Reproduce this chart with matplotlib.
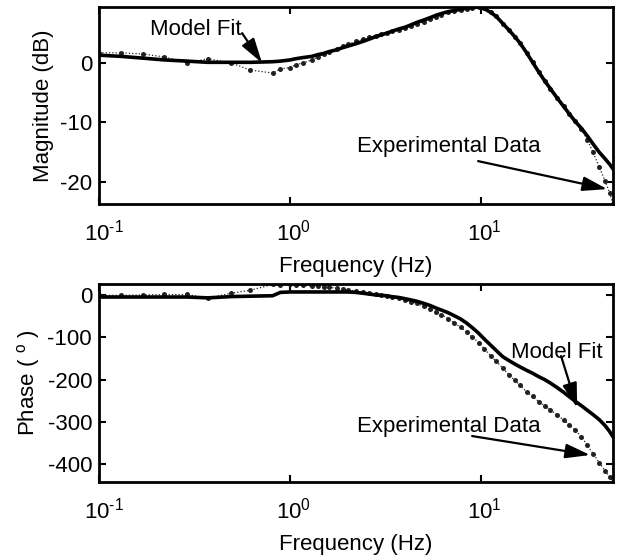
import matplotlib
matplotlib.use("Agg")
import matplotlib.pyplot as plt
from matplotlib.ticker import FixedLocator, FixedFormatter, NullLocator
from matplotlib.transforms import ScaledTranslation

plt.rcParams['font.family'] = ['Liberation Sans', 'DejaVu Sans']
plt.rcParams['mathtext.fontset'] = 'custom'
plt.rcParams['mathtext.rm'] = 'Liberation Sans'
plt.rcParams['mathtext.it'] = 'Liberation Sans'
plt.rcParams['mathtext.bf'] = 'Liberation Sans'
plt.rcParams['axes.unicode_minus'] = False

# ---- data ----
freq = [0.1, 0.13, 0.17, 0.22, 0.29, 0.37, 0.49, 0.62, 0.81, 0.89,
        1.0, 1.07, 1.17, 1.3, 1.4, 1.5, 1.6, 1.75, 1.9, 2.0,
        2.2, 2.4, 2.6, 2.8, 3.0, 3.2, 3.4, 3.7, 4.0, 4.3,
        4.6, 5.0, 5.4, 5.8, 6.2, 6.7, 7.2, 7.8, 8.4, 9.0,
        9.7, 10.4, 11.2, 12.0, 13.0, 14.0, 15.0, 16.0, 17.3, 18.6,
        20.0, 21.5, 23.0, 25.0, 27.0, 29.0, 31.0, 33.5, 36.0, 38.5,
        41.5, 44.5, 47.0, 49.0]

mag_exp = [1.7, 1.7, 1.5, 1.0, 0.0, 0.7, 0.0, -1.2, -1.7, -1.0,
           -0.8, -0.3, 0.0, 0.5, 1.0, 1.5, 1.9, 2.3, 2.8, 3.1,
           3.6, 4.0, 4.3, 4.6, 4.9, 5.1, 5.4, 5.6, 5.9, 6.2,
           6.5, 6.9, 7.3, 7.7, 8.1, 8.5, 8.7, 8.9, 9.1, 9.3,
           9.4, 9.2, 8.5, 7.8, 6.6, 5.5, 4.4, 3.3, 1.7, 0.1,
           -1.5, -3.0, -4.3, -5.9, -7.3, -8.6, -9.8, -11.1, -13.0, -15.0,
           -17.5, -19.8, -21.8, -23.7]

mag_fit = [1.3, 1.1, 0.8, 0.5, 0.3, 0.1, 0.1, 0.1, 0.2, 0.3,
           0.5, 0.7, 0.9, 1.1, 1.4, 1.6, 1.9, 2.2, 2.6, 2.8,
           3.2, 3.6, 4.0, 4.4, 4.7, 5.0, 5.3, 5.7, 6.0, 6.4,
           6.8, 7.2, 7.6, 8.0, 8.3, 8.6, 8.8, 9.0, 9.2, 9.3,
           9.4, 9.1, 8.5, 7.8, 6.6, 5.5, 4.4, 3.3, 1.7, 0.1,
           -1.5, -3.0, -4.3, -5.9, -7.3, -8.6, -9.8, -11.0, -12.3, -13.6,
           -15.0, -16.1, -17.0, -17.8]

phase_exp = [0, 0, 1, 2, 2, -7, 5, 12, 26, 25,
             26, 25, 24, 22, 21, 20, 19, 17, 15, 13,
             10, 7, 5, 3, 1, -2, -4, -7, -11, -15,
             -19, -26, -32, -39, -46, -55, -65, -76, -87, -99,
             -112, -127, -143, -157, -173, -189, -202, -214, -229, -240,
             -252, -262, -272, -284, -296, -307, -320, -336, -356, -376,
             -397, -416, -431, -443]

phase_fit = [-4, -4, -4, -4, -4, -6, -3, -2, -1, 7,
             8, 8, 8, 8, 8, 8, 8, 8, 8, 8,
             7, 5, 3, 1, 0, -1, -3, -5, -8, -11,
             -14, -19, -24, -30, -35, -41, -48, -56, -66, -77,
             -90, -104, -118, -131, -146, -155, -163, -170, -178, -185,
             -193, -200, -208, -219, -230, -241, -251, -262, -273, -283,
             -295, -309, -323, -336]

xticks = [0.1, 1, 10]
xticklabels = [r'$10^{\text{-1}}$', r'$10^{\text{0}}$', r'$10^{\text{1}}$']
mag_ticks = [0, -10, -20]
phase_ticks = [0, -100, -200, -300, -400]

# ---- figure ----
fig = plt.figure(figsize=(6.24, 5.57), dpi=100)
ax1 = fig.add_axes([0.1587, 0.6338, 0.8237, 0.3537])
ax2 = fig.add_axes([0.1587, 0.1347, 0.8237, 0.3555])

FS = 16

def style(ax):
    ax.set_xscale('log')
    ax.set_xlim(0.1, 49)
    ax.xaxis.set_major_locator(FixedLocator(xticks))
    ax.xaxis.set_major_formatter(FixedFormatter(xticklabels))
    ax.xaxis.set_minor_locator(NullLocator())
    for s in ax.spines.values():
        s.set_linewidth(2.0)
    ax.tick_params(direction='in', top=True, right=True, length=5, width=1.5,
                   labelsize=FS)
    ax.tick_params(axis='x', pad=11)
    ax.tick_params(axis='y', pad=5)
    ax.set_xlabel('Frequency (Hz)', fontsize=FS, labelpad=8)
    # centre the "10" of each label on its tick, exponent hanging to the right
    shifts = [0.045, 0.03, 0.03]
    for lbl, dx in zip(ax.xaxis.get_majorticklabels(), shifts):
        lbl.set_transform(lbl.get_transform() + ScaledTranslation(dx, 0, fig.dpi_scale_trans))

for ax, exp, fit in [(ax1, mag_exp, mag_fit), (ax2, phase_exp, phase_fit)]:
    ax.plot(freq, exp, linestyle=':', linewidth=0.9, color='#222222',
            marker='o', markersize=3.6, markeredgewidth=0, markerfacecolor='#222222')
    ax.plot(freq, fit, '-', color='black', linewidth=2.6)
    style(ax)

ax1.set_ylim(-23.7, 9.4)
ax1.set_yticks(mag_ticks)
ax1.set_ylabel('Magnitude (dB)', fontsize=FS)

ax2.set_ylim(-443, 27)
ax2.set_yticks(phase_ticks)
ax2.set_ylabel(r'Phase ( $^{\rm o}$ )', fontsize=FS)

arrow = dict(arrowstyle='-|>,head_length=0.75,head_width=0.22', color='black',
             lw=1.6, shrinkA=0, shrinkB=0, mutation_scale=20)

# top annotations
ax1.text(0.322, 4.7, 'Model Fit', fontsize=FS, ha='center', va='baseline')
ax1.annotate('', xy=(0.713, 0.0), xytext=(0.561, 5.0), arrowprops=arrow)
ax1.text(6.8, -15.0, 'Experimental Data', fontsize=FS, ha='center', va='baseline')
ax1.annotate('', xy=(45.7, -21.2), xytext=(9.64, -16.5), arrowprops=arrow)

# bottom annotations
ax2.text(25.0, -149, 'Model Fit', fontsize=FS, ha='center', va='baseline')
ax2.annotate('', xy=(31.8, -267), xytext=(26.2, -144), arrowprops=arrow)
ax2.text(6.8, -324, 'Experimental Data', fontsize=FS, ha='center', va='baseline')
ax2.annotate('', xy=(37.2, -379), xytext=(8.97, -334), arrowprops=arrow)

fig.savefig('out.png', dpi=100)
